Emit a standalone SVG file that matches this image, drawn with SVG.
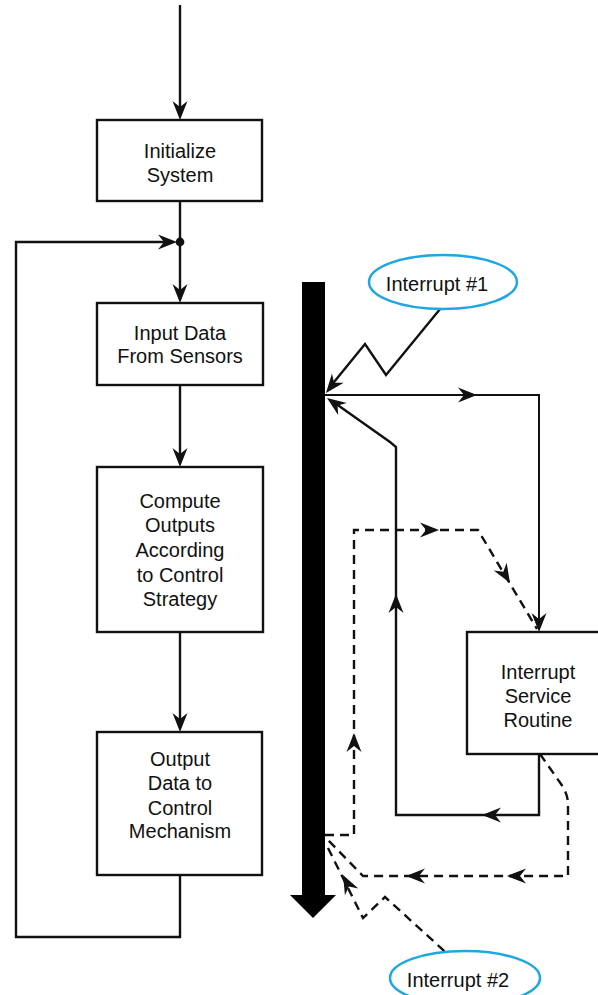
<svg xmlns="http://www.w3.org/2000/svg" xmlns:xlink="http://www.w3.org/1999/xlink" width="598" height="995" viewBox="0 0 598 995">
<style>
.box{fill:#fff;stroke:#111;stroke-width:2.4}
.ln{fill:none;stroke:#111;stroke-width:2.4;stroke-linejoin:miter}
.thin{fill:none;stroke:#111;stroke-width:2}
.dash{fill:none;stroke:#111;stroke-width:2.4;stroke-dasharray:9 6}
.lbl{font-family:"Liberation Sans",Arial,sans-serif;font-size:20px;fill:#111;text-anchor:middle}
.oval{fill:#fff;stroke:#1ea7e1;stroke-width:2.5}
.ah{fill:#111}
</style>
<defs>
<path id="ah" d="M0,0 L-19,-7.5 L-13,0 L-19,7.5 Z"/>
</defs>
<rect width="598" height="995" fill="#fff"/>
<g id="connectors">
<line class="ln" x1="180" y1="5" x2="180" y2="116"/>
<line class="ln" x1="180" y1="201" x2="180" y2="299"/>
<polyline class="ln" points="180,875 180,937 16,937 16,242 172,242"/>
<circle cx="180" cy="242" r="4.4" fill="#111"/>
<line class="ln" x1="180" y1="385" x2="180" y2="463"/>
<line class="ln" x1="180" y1="632" x2="180" y2="728"/>
<polyline class="ln" points="445,303 386,375 365,344 330,387"/>
<polyline class="thin" points="325,395 539,395 539,626"/>
<polyline class="ln" points="332,401 390,442 396,447 396,815 539,815 539,754"/>
<polyline class="dash" points="325,835 354,835 354,530 478,530 537,629"/>
<path class="dash" d="M540,754 L561,784 Q568,794 568,804 L568,876 L363,876 L326,838"/>
<polyline class="dash" points="328,848 363,918 385,897 452,958"/>
<g class="ah">
<use xlink:href="#ah" transform="translate(180,120) rotate(90)"/>
<use xlink:href="#ah" transform="translate(177,242)"/>
<use xlink:href="#ah" transform="translate(180,303) rotate(90)"/>
<use xlink:href="#ah" transform="translate(180,467) rotate(90)"/>
<use xlink:href="#ah" transform="translate(180,732) rotate(90)"/>
<use xlink:href="#ah" transform="translate(326,393) rotate(128.5)"/>
<use xlink:href="#ah" transform="translate(477,395)"/>
<use xlink:href="#ah" transform="translate(539,632) rotate(90)"/>
<use xlink:href="#ah" transform="translate(327,398) rotate(-144.6)"/>
<use xlink:href="#ah" transform="translate(396,594) rotate(-90)"/>
<use xlink:href="#ah" transform="translate(482,815) rotate(180)"/>
<use xlink:href="#ah" transform="translate(439,530)"/>
<use xlink:href="#ah" transform="translate(510,583) rotate(59)"/>
<use xlink:href="#ah" transform="translate(354,733) rotate(-90)"/>
<use xlink:href="#ah" transform="translate(406,876) rotate(180)"/>
<use xlink:href="#ah" transform="translate(507,876) rotate(180)"/>
<use xlink:href="#ah" transform="translate(343,875) rotate(-117)"/>
</g>
</g>
<g id="bus">
<rect x="302" y="282" width="23" height="614" fill="#000"/>
<polygon points="290,895 336,895 313,918" fill="#000"/>
</g>
<g id="init">
<rect class="box" x="97" y="120" width="165" height="81"/>
<text class="lbl" x="180" y="158">Initialize</text>
<text class="lbl" x="180" y="182">System</text>
</g>
<g id="input">
<rect class="box" x="97" y="303" width="166" height="82"/>
<text class="lbl" x="180" y="340">Input Data</text>
<text class="lbl" x="180" y="363">From Sensors</text>
</g>
<g id="compute">
<rect class="box" x="97" y="467" width="166" height="165"/>
<text class="lbl" x="180" y="508">Compute</text>
<text class="lbl" x="180" y="532">Outputs</text>
<text class="lbl" x="180" y="557">According</text>
<text class="lbl" x="180" y="582">to Control</text>
<text class="lbl" x="180" y="606">Strategy</text>
</g>
<g id="output">
<rect class="box" x="97" y="732" width="165" height="143"/>
<text class="lbl" x="180" y="766">Output</text>
<text class="lbl" x="180" y="790">Data to</text>
<text class="lbl" x="180" y="815">Control</text>
<text class="lbl" x="180" y="838">Mechanism</text>
</g>
<g id="isr">
<rect class="box" x="467" y="632" width="134" height="122"/>
<text class="lbl" x="538" y="679">Interrupt</text>
<text class="lbl" x="538" y="703">Service</text>
<text class="lbl" x="538" y="727">Routine</text>
</g>
<g id="int1">
<ellipse class="oval" cx="443" cy="282" rx="74" ry="27"/>
<text class="lbl" x="437" y="291">Interrupt #1</text>
</g>
<g id="int2">
<ellipse class="oval" cx="465" cy="978" rx="75" ry="27"/>
<text class="lbl" x="458" y="987">Interrupt #2</text>
</g>
</svg>
